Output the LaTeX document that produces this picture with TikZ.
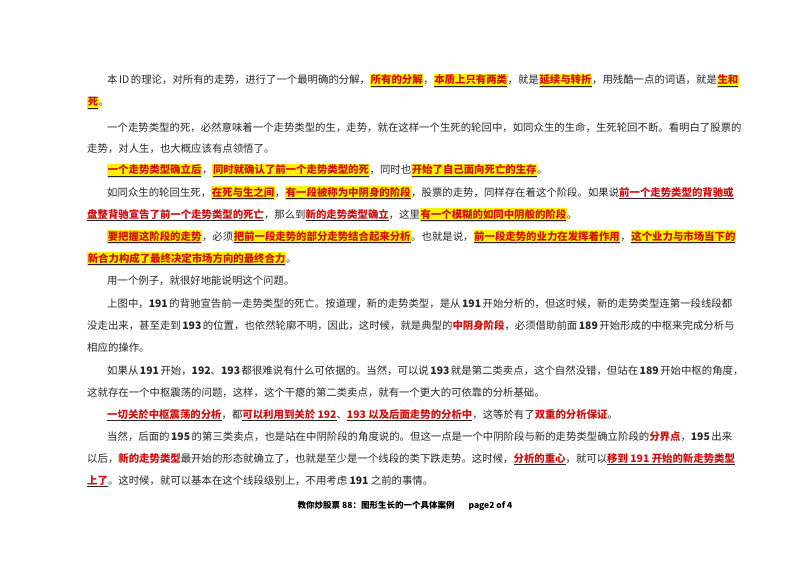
\documentclass[tikz,border=0pt]{standalone}
\usepackage{fontspec}
\setmainfont{Noto Sans CJK SC}
\XeTeXlinebreaklocale "zh"
\XeTeXlinebreakskip=0pt plus 3pt
\definecolor{hlred}{HTML}{D01010}
\definecolor{hlyel}{HTML}{FFF200}
\newcommand\HL[1]{{\setlength\fboxsep{0.6pt}\colorbox{hlyel}{\underline{\textbf{\textcolor{hlred}{#1}}}}}}
\newcommand\RU[1]{\underline{\textbf{\textcolor{hlred}{#1}}}}
\newcommand\RB[1]{\textbf{\textcolor{hlred}{#1}}}
\newcommand\FL[2]{\makebox[#1pt][s]{#2}}
\tikzset{ln/.style={anchor=base west,inner sep=0pt,font=\fontsize{10.4}{12}\selectfont,text=black!85}}
\begin{document}
\begin{tikzpicture}[x=1pt,y=1pt]
\fill[white] (0,0) rectangle (800,566);
\node[ln] (l1) at (107,482) {\FL{607}{本 ID 的理论，对所有的走势，进行了一个最明确的分解，\HL{所有的分解}，\HL{本质上只有两类}，就是\HL{延续与转折}，用残酷一点的词语，就是\HL{生和}}};
\node[ln] (l2) at (87,460) {\HL{死}。};
\node[ln] (l3) at (107,434) {\FL{605}{一个走势类型的死，必然意味着一个走势类型的生，走势，就在这样一个生死的轮回中，如同众生的生命，生死轮回不断。看明白了股票的}};
\node[ln] (l4) at (87,413) {走势，对人生，也大概应该有点领悟了。};
\node[ln] (l5) at (107,392) {\HL{一个走势类型确立后}，\HL{同时就确认了前一个走势类型的死}，同时也\HL{开始了自己面向死亡的生存}。};
\node[ln] (l6) at (107,370) {\FL{605}{如同众生的轮回生死，\HL{在死与生之间}，\HL{有一段被称为中阴身的阶段}，股票的走势，同样存在着这个阶段。如果说\RU{前一个走势类型的背驰或}}};
\node[ln] (l7) at (87,348) {\RU{盘整背驰宣告了前一个走势类型的死亡}，那么到\RU{新的走势类型确立}，这里\HL{有一个模糊的如同中阴般的阶段}。};
\node[ln] (l8) at (107,326) {\FL{605}{\HL{要把握这阶段的走势}，必须\HL{把前一段走势的部分走势结合起来分析}。也就是说，\HL{前一段走势的业力在发挥着作用}，\HL{这个业力与市场当下的}}};
\node[ln] (l9) at (87,304) {\HL{新合力构成了最终决定市场方向的最终合力}。};
\node[ln] (l10) at (107,282) {用一个例子，就很好地能说明这个问题。};
\node[ln] (l11) at (107,259) {\FL{605}{上图中，\textbf{191} 的背驰宣告前一走势类型的死亡。按道理，新的走势类型，是从 \textbf{191} 开始分析的，但这时候，新的走势类型连第一段线段都}};
\node[ln] (l12) at (87,237) {\FL{625}{没走出来，甚至走到 \textbf{193} 的位置，也依然轮廓不明，因此，这时候，就是典型的\RB{中阴身阶段}，必须借助前面 \textbf{189} 开始形成的中枢来完成分析与}};
\node[ln] (l13) at (87,215) {相应的操作。};
\node[ln] (l14) at (107,192) {\FL{605}{如果从 \textbf{191} 开始，\textbf{192}、\textbf{193} 都很难说有什么可依据的。当然，可以说 \textbf{193} 就是第二类卖点，这个自然没错，但站在 \textbf{189} 开始中枢的角度，}};
\node[ln] (l15) at (87,170) {这就存在一个中枢震荡的问题，这样，这个干瘪的第二类卖点，就有一个更大的可依靠的分析基础。};
\node[ln] (l16) at (107,148) {\RU{一切关於中枢震荡的分析}，都\RU{可以利用到关於 192}、\RU{193 以及后面走势的分析中}，这等於有了\RB{双重的分析保证}。};
\node[ln] (l17) at (107,126) {\FL{605}{当然，后面的 \textbf{195} 的第三类卖点，也是站在中阴阶段的角度说的。但这一点是一个中阴阶段与新的走势类型确立阶段的\RB{分界点}，\textbf{195} 出来}};
\node[ln] (l18) at (87,104) {\FL{625}{以后，\RB{新的走势类型}最开始的形态就确立了，也就是至少是一个线段的类下跌走势。这时候，\RU{分析的重心}，就可以\RU{移到 191 开始的新走势类型}}};
\node[ln] (l19) at (87,82) {\RU{上了}。这时候，就可以基本在这个线段级别上，不用考虑 \textbf{191} 之前的事情。};
\node[anchor=base,inner sep=0pt,font=\fontsize{8.5}{10}\selectfont\bfseries] (ft) at (405,58) {教你炒股票 88：图形生长的一个具体案例\hspace{14pt}page2 of 4};
\end{tikzpicture}
\end{document}
